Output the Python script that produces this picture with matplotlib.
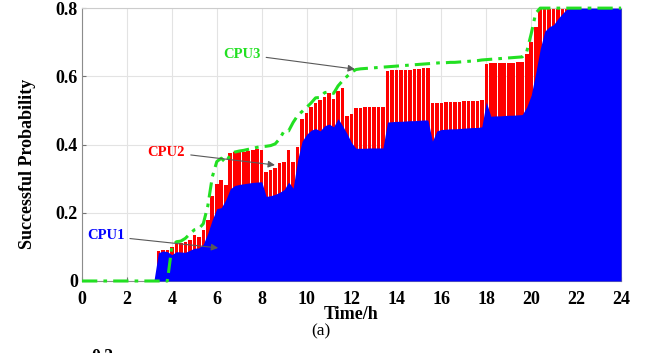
import numpy as np
import matplotlib
matplotlib.use("Agg")
import matplotlib.pyplot as plt

# ---------------- data ----------------
time_h = np.round(np.arange(121) * 0.2, 1)   # 0 .. 24 h, 0.2 h step

cpu1 = ([0.0] * 17 +
        [0.083, 0.088, 0.086, 0.077, 0.086, 0.085, 0.084, 0.090, 0.096, 0.097,
         0.108, 0.140, 0.180, 0.212, 0.215, 0.238, 0.270, 0.280, 0.283, 0.285,
         0.287, 0.289, 0.290, 0.291, 0.248, 0.250, 0.254, 0.260, 0.268, 0.290,
         0.272, 0.355, 0.410, 0.430, 0.442, 0.447, 0.440, 0.455, 0.460, 0.452,
         0.476, 0.455, 0.432, 0.405, 0.389] +
        [0.389, 0.389, 0.390, 0.390, 0.390, 0.390] +
        [0.466] +
        [0.467, 0.468, 0.468, 0.469, 0.470, 0.470, 0.471, 0.472] +
        [0.472, 0.410, 0.440] +
        [0.444, 0.445, 0.446, 0.446, 0.447, 0.448, 0.449, 0.450, 0.450] +
        [0.452, 0.525, 0.483] +
        [0.484, 0.484, 0.485, 0.486, 0.486, 0.487, 0.488] +
        [0.510, 0.545, 0.610, 0.680, 0.732, 0.745, 0.752, 0.770, 0.785, 0.798] +
        [0.8] * 12)

cpu2 = ([0.0] * 17 +
        [0.088, 0.092, 0.092, 0.100, 0.108, 0.110, 0.115, 0.120, 0.135, 0.130,
         0.150, 0.180, 0.250, 0.285, 0.296, 0.282, 0.374, 0.378, 0.380, 0.379,
         0.382, 0.384, 0.386, 0.384, 0.320, 0.326, 0.330, 0.345, 0.348, 0.384,
         0.350, 0.394, 0.475, 0.492, 0.510, 0.522, 0.530, 0.540, 0.550, 0.535,
         0.558, 0.566, 0.483, 0.490, 0.508] +
        [0.508, 0.509, 0.509, 0.510, 0.510, 0.510] +
        [0.617] +
        [0.618, 0.618, 0.619, 0.620, 0.620, 0.621, 0.622, 0.623] +
        [0.624, 0.522, 0.523] +
        [0.523, 0.524, 0.524, 0.525, 0.526, 0.527, 0.527, 0.528, 0.529] +
        [0.530, 0.637, 0.638] +
        [0.638, 0.639, 0.639, 0.640, 0.640, 0.641, 0.641] +
        [0.665, 0.700, 0.745, 0.800, 0.8, 0.8, 0.8, 0.8, 0.8, 0.8] +
        [0.8] * 12)

cpu3 = ([0.0] * 20 +
        [0.100, 0.115, 0.117, 0.125, 0.138, 0.150, 0.153, 0.168, 0.220, 0.305,
         0.350, 0.360, 0.347, 0.370, 0.378, 0.381, 0.383, 0.386, 0.389, 0.392,
         0.394, 0.395, 0.397, 0.402, 0.417, 0.440, 0.440, 0.465, 0.485, 0.497,
         0.509, 0.522, 0.537, 0.538, 0.552, 0.555, 0.550, 0.572, 0.587, 0.600,
         0.612, 0.620] +
        [0.622, 0.623, 0.624, 0.625, 0.626, 0.627] +
        [0.628] +
        [0.629, 0.630, 0.631, 0.632, 0.633, 0.634, 0.635, 0.636] +
        [0.637, 0.638, 0.639] +
        [0.640, 0.640, 0.641, 0.641, 0.642, 0.643, 0.644, 0.645, 0.646] +
        [0.648, 0.649, 0.650] +
        [0.651, 0.652, 0.653, 0.654, 0.655, 0.656, 0.657] +
        [0.672, 0.725, 0.785, 0.800] +
        [0.8] * 18)

xticks = list(range(0, 25, 2))
yticks = [0, 0.2, 0.4, 0.6, 0.8]
ytick_labels = ["0", "0.2", "0.4", "0.6", "0.8"]

# ---------------- figure ----------------
serif = ["Liberation Serif", "DejaVu Serif"]
plt.rcParams["font.family"] = serif

fig = plt.figure(figsize=(6.51, 3.53), dpi=100)
ax = fig.add_axes([0.126, 0.204, 0.828, 0.773])

ax.grid(True, color="#e3e3e3", lw=0.8, zorder=0)
ax.set_axisbelow(True)

ax.bar(time_h, cpu2, width=0.16, color="#ff0000", edgecolor="none", zorder=2)
ax.fill_between(time_h, 0, cpu1, color="#0000ff", lw=0, zorder=3)
ax.plot(time_h, cpu3, color="#22e022", lw=2.2, ls=(0, (5, 2, 1.2, 2)),
        zorder=4, clip_on=False)

ax.set_xlim(0, 24)
ax.set_ylim(0, 0.8)
ax.set_xticks(xticks)
ax.set_yticks(yticks)
ax.set_yticklabels(ytick_labels)
for lab in ax.get_xticklabels() + ax.get_yticklabels():
    lab.set_fontweight("bold")
    lab.set_fontsize(13)
ax.tick_params(direction="in", length=3, color="0.45", pad=3)
ax.tick_params(axis="x", pad=7)
for s in ax.spines.values():
    s.set_color("0.55")
    s.set_linewidth(0.8)
ax.spines["top"].set_color("0.8")

ax.set_xlabel("Time/h", fontsize=13, fontweight="bold", labelpad=-1)
ax.set_ylabel("Successful Probability", fontsize=13, fontweight="bold")
ax.yaxis.set_label_coords(-0.085, 0.43)

arrow = dict(arrowstyle="-|>", color="0.35", lw=0.8, mutation_scale=10,
             shrinkA=2, shrinkB=0)
ax.annotate("CPU3", xy=(12.15, 0.621), xytext=(7.12, 0.665),
            color="#22e022", fontsize=10.5, fontweight="bold",
            ha="center", va="center", arrowprops=arrow, zorder=6)
ax.annotate("CPU2", xy=(8.59, 0.34), xytext=(3.76, 0.378),
            color="#ff0000", fontsize=10.5, fontweight="bold",
            ha="center", va="center", arrowprops=arrow, zorder=6)
ax.annotate("CPU1", xy=(6.06, 0.097), xytext=(1.05, 0.132),
            color="#0000ff", fontsize=10.5, fontweight="bold",
            ha="center", va="center", arrowprops=arrow, zorder=6)

fig.text(0.493, 0.062, "(a)", fontsize=12.5, ha="center", va="center")
fig.text(0.157, 0.012, "0.3", fontsize=13, fontweight="bold",
         ha="center", va="top")

fig.savefig("out.png", dpi=100)
